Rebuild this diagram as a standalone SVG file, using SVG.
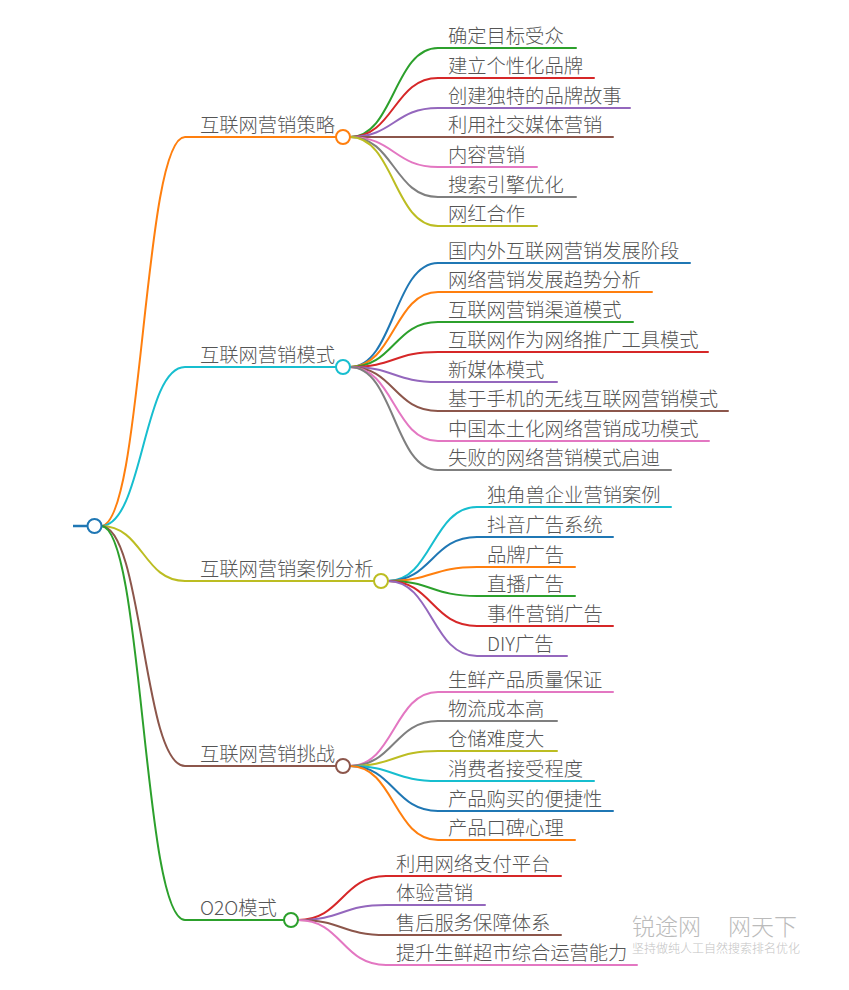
<svg xmlns="http://www.w3.org/2000/svg" width="849" height="990" viewBox="0 0 849 990">
<style>
text{font-family:"Noto Sans CJK SC","Noto Sans",sans-serif;font-weight:300;font-size:19.3px;fill:#555}
.l{fill:none;stroke-width:2;stroke-linecap:round}
.c{fill:#fff;stroke-width:2}
.wm{fill:#bbb;font-size:23px}
.ws{fill:#c4c4c4;font-size:12px}
</style>
<rect width="849" height="990" fill="#fff"/>
<g id="connectors">
<line x1="73" y1="526" x2="88" y2="526" stroke="#1f77b4" stroke-width="2.5"/>
<path class="l" stroke="#ff7f0e" d="M101,526 C143,526 143,137 185,137 L336,137"/>
<path class="l" stroke="#17becf" d="M101,526 C143,526 143,367 185,367 L336,367"/>
<path class="l" stroke="#bcbd22" d="M101,526 C143,526 143,581 185,581 L374,581"/>
<path class="l" stroke="#8c564b" d="M101,526 C143,526 143,766 185,766 L336,766"/>
<path class="l" stroke="#2ca02c" d="M101,526 C143,526 143,920 185,920 L284,920"/>
<path class="l" stroke="#2ca02c" d="M350,137 C394,137 394,48 438,48 L576,48"/>
<path class="l" stroke="#d62728" d="M350,137 C394,137 394,78 438,78 L594,78"/>
<path class="l" stroke="#9467bd" d="M350,137 C394,137 394,108 438,108 L630,108"/>
<path class="l" stroke="#8c564b" d="M350,137 C394,137 394,137 438,137 L613,137"/>
<path class="l" stroke="#e377c2" d="M350,137 C394,137 394,167 438,167 L537,167"/>
<path class="l" stroke="#7f7f7f" d="M350,137 C394,137 394,197 438,197 L576,197"/>
<path class="l" stroke="#bcbd22" d="M350,137 C394,137 394,226 438,226 L537,226"/>
<path class="l" stroke="#1f77b4" d="M350,367 C394,367 394,263 438,263 L690,263"/>
<path class="l" stroke="#ff7f0e" d="M350,367 C394,367 394,292 438,292 L652,292"/>
<path class="l" stroke="#2ca02c" d="M350,367 C394,367 394,322 438,322 L633,322"/>
<path class="l" stroke="#d62728" d="M350,367 C394,367 394,352 438,352 L708,352"/>
<path class="l" stroke="#9467bd" d="M350,367 C394,367 394,382 438,382 L557,382"/>
<path class="l" stroke="#8c564b" d="M350,367 C394,367 394,411 438,411 L728,411"/>
<path class="l" stroke="#e377c2" d="M350,367 C394,367 394,441 438,441 L709,441"/>
<path class="l" stroke="#7f7f7f" d="M350,367 C394,367 394,470 438,470 L671,470"/>
<path class="l" stroke="#17becf" d="M388,581 C432,581 432,507 477,507 L671,507"/>
<path class="l" stroke="#1f77b4" d="M388,581 C432,581 432,537 477,537 L613,537"/>
<path class="l" stroke="#ff7f0e" d="M388,581 C432,581 432,567 477,567 L575,567"/>
<path class="l" stroke="#2ca02c" d="M388,581 C432,581 432,596 477,596 L575,596"/>
<path class="l" stroke="#d62728" d="M388,581 C432,581 432,626 477,626 L613,626"/>
<path class="l" stroke="#9467bd" d="M388,581 C432,581 432,656 477,656 L567,656"/>
<path class="l" stroke="#e377c2" d="M350,766 C394,766 394,692 438,692 L613,692"/>
<path class="l" stroke="#7f7f7f" d="M350,766 C394,766 394,721 438,721 L557,721"/>
<path class="l" stroke="#bcbd22" d="M350,766 C394,766 394,751 438,751 L557,751"/>
<path class="l" stroke="#17becf" d="M350,766 C394,766 394,781 438,781 L594,781"/>
<path class="l" stroke="#1f77b4" d="M350,766 C394,766 394,811 438,811 L613,811"/>
<path class="l" stroke="#ff7f0e" d="M350,766 C394,766 394,840 438,840 L575,840"/>
<path class="l" stroke="#d62728" d="M298,920 C342,920 342,876 386,876 L561,876"/>
<path class="l" stroke="#9467bd" d="M298,920 C342,920 342,905 386,905 L485,905"/>
<path class="l" stroke="#8c564b" d="M298,920 C342,920 342,935 386,935 L561,935"/>
<path class="l" stroke="#e377c2" d="M298,920 C342,920 342,965 386,965 L637,965"/>
</g>
<g id="root"><circle class="c" cx="94.5" cy="526" r="7" stroke="#1f77b4"/></g>
<g id="b1"><text x="200" y="132">互联网营销策略</text><circle class="c" cx="343" cy="137" r="7" stroke="#ff7f0e"/></g>
<g id="b1c">
<text x="448" y="43">确定目标受众</text>
<text x="448" y="73">建立个性化品牌</text>
<text x="448" y="103">创建独特的品牌故事</text>
<text x="448" y="132">利用社交媒体营销</text>
<text x="448" y="162">内容营销</text>
<text x="448" y="192">搜索引擎优化</text>
<text x="448" y="221">网红合作</text>
</g>
<g id="b2"><text x="200" y="362">互联网营销模式</text><circle class="c" cx="343" cy="367" r="7" stroke="#17becf"/></g>
<g id="b2c">
<text x="448" y="258">国内外互联网营销发展阶段</text>
<text x="448" y="287">网络营销发展趋势分析</text>
<text x="448" y="317">互联网营销渠道模式</text>
<text x="448" y="347">互联网作为网络推广工具模式</text>
<text x="448" y="377">新媒体模式</text>
<text x="448" y="406">基于手机的无线互联网营销模式</text>
<text x="448" y="436">中国本土化网络营销成功模式</text>
<text x="448" y="465">失败的网络营销模式启迪</text>
</g>
<g id="b3"><text x="200" y="576">互联网营销案例分析</text><circle class="c" cx="381" cy="581" r="7" stroke="#bcbd22"/></g>
<g id="b3c">
<text x="487" y="502">独角兽企业营销案例</text>
<text x="487" y="532">抖音广告系统</text>
<text x="487" y="562">品牌广告</text>
<text x="487" y="591">直播广告</text>
<text x="487" y="621">事件营销广告</text>
<text x="487" y="651">DIY广告</text>
</g>
<g id="b4"><text x="200" y="761">互联网营销挑战</text><circle class="c" cx="343" cy="766" r="7" stroke="#8c564b"/></g>
<g id="b4c">
<text x="448" y="687">生鲜产品质量保证</text>
<text x="448" y="716">物流成本高</text>
<text x="448" y="746">仓储难度大</text>
<text x="448" y="776">消费者接受程度</text>
<text x="448" y="806">产品购买的便捷性</text>
<text x="448" y="835">产品口碑心理</text>
</g>
<g id="b5"><text x="200" y="915">O2O模式</text><circle class="c" cx="291" cy="920" r="7" stroke="#2ca02c"/></g>
<g id="b5c">
<text x="396" y="871">利用网络支付平台</text>
<text x="396" y="900">体验营销</text>
<text x="396" y="930">售后服务保障体系</text>
<text x="396" y="960">提升生鲜超市综合运营能力</text>
</g>
<g id="watermark">
<text class="wm" x="632" y="935">锐途网</text>
<text class="wm" x="728" y="935">网天下</text>
<text class="ws" x="632" y="953">坚持做纯人工自然搜索排名优化</text>
</g>
</svg>
